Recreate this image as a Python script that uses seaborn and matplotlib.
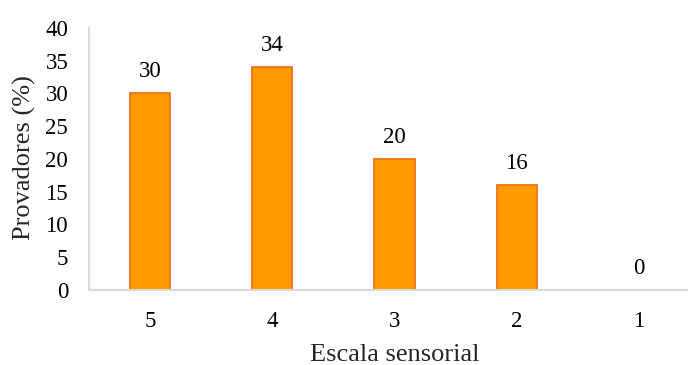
import matplotlib
matplotlib.use("Agg")
import matplotlib.pyplot as plt
import seaborn as sns
import pandas as pd

# Sensory scale categories and share of tasters (%)
escala = ["5", "4", "3", "2", "1"]
provadores = [30, 34, 20, 16, 0]
y_ticks = [0, 5, 10, 15, 20, 25, 30, 35, 40]

df = pd.DataFrame({"Escala": escala, "Provadores": provadores})

sns.set_style("white")
plt.rcParams["font.family"] = ["Liberation Serif", "DejaVu Serif"]

fig = plt.figure(figsize=(6.88, 3.65), dpi=100)
ax = fig.add_axes([89 / 688, 75 / 365, 611 / 688, 262 / 365])

sns.barplot(data=df, x="Escala", y="Provadores", order=escala,
            color="#FF9900", width=0.33, edgecolor="#EC7318",
            linewidth=1.3, saturation=1, ax=ax)

for patch, val in zip(ax.patches, provadores):
    ax.annotate(f"{val}", (patch.get_x() + patch.get_width() / 2, val),
                xytext=(0, 8), textcoords="offset points",
                ha="center", va="bottom", fontsize=16.5, color="black")

ax.set_ylim(0, 40)
ax.set_yticks(y_ticks)
ax.set_xlim(-0.5, 4.5)
ax.tick_params(axis="both", length=0, labelsize=16.5, colors="black")
ax.tick_params(axis="y", pad=15)
ax.tick_params(axis="x", pad=15)

for side in ["top", "right"]:
    ax.spines[side].set_visible(False)
for side in ["left", "bottom"]:
    ax.spines[side].set_color("#D9D9D9")
    ax.spines[side].set_linewidth(1.5)

ax.set_xlabel("Escala sensorial", fontsize=19, va="center")
ax.set_ylabel("Provadores (%)", fontsize=19, va="center")
ax.xaxis.set_label_coords((395 - 89) / 611, -(355 - 290) / 262)
ax.yaxis.set_label_coords(-(89 - 24) / 611, (290 - 158) / 262)

fig.savefig("out.png", dpi=100)
